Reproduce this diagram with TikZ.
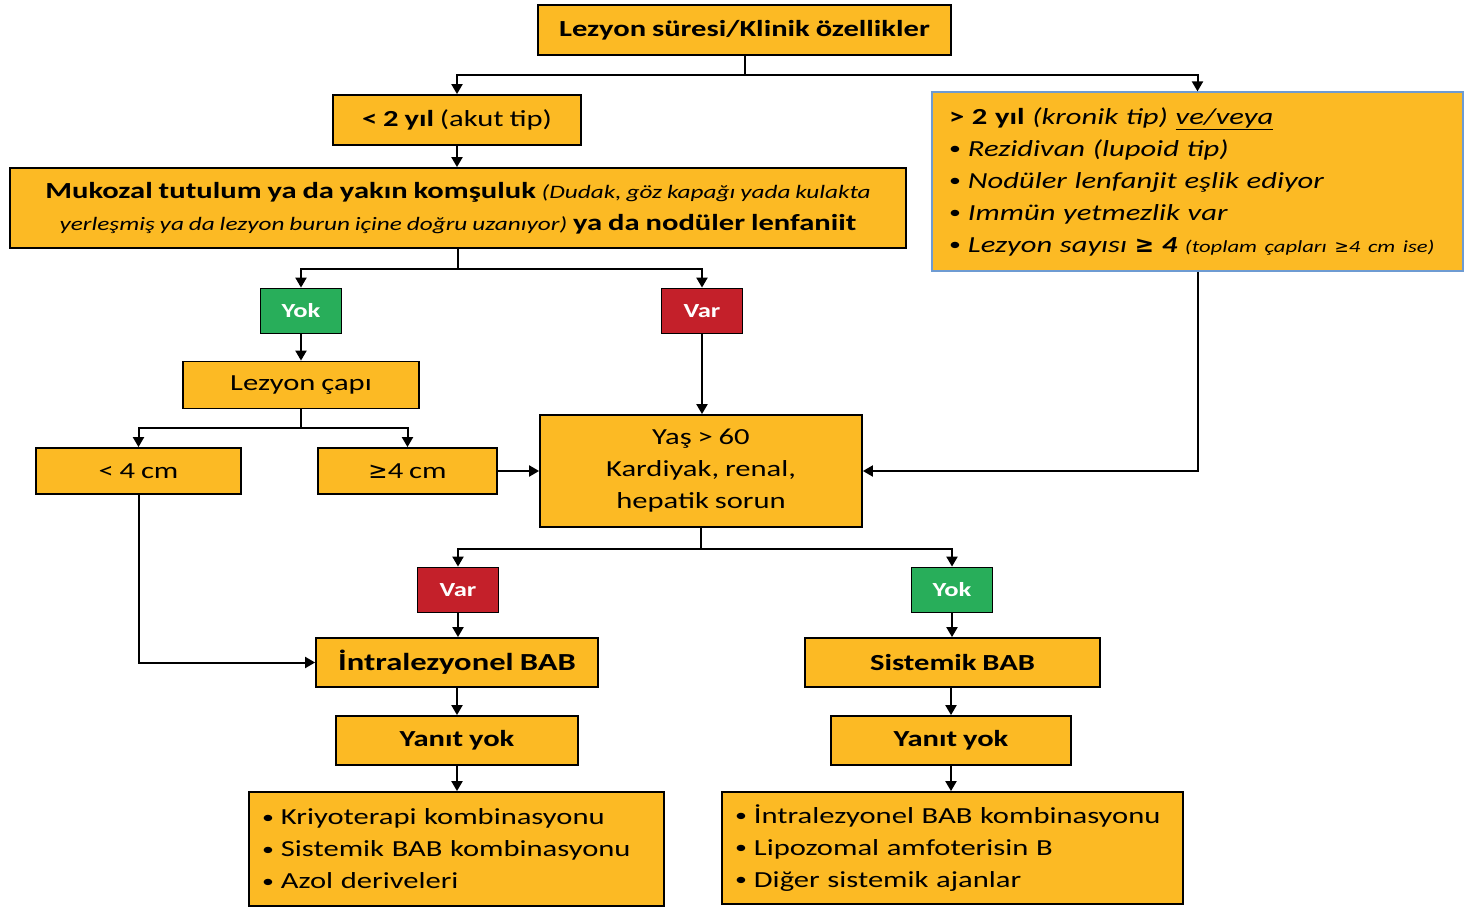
\documentclass[tikz,border=0pt]{standalone}
\usepackage{fontspec}
\setmainfont{Carlito}[FakeStretch=1.33,WordSpace=0.85]
\newfontfamily\symfont{DejaVu Sans}
\usetikzlibrary{arrows.meta}
\definecolor{boxamber}{RGB}{252,186,36}
\definecolor{yokgreen}{RGB}{40,174,90}
\definecolor{varred}{RGB}{196,32,42}
\definecolor{kronikblue}{RGB}{110,155,210}
\newcommand{\buyukesit}{{\symfont ≥}}
\newcommand{\madde}{\raisebox{1.5pt}{\fontsize{18}{18}\selectfont•}\hspace{7pt}}

\begin{document}
\begin{tikzpicture}[x=1pt,y=-1pt,
  box/.style={draw=black,line width=1.8pt,fill=boxamber,inner sep=0pt,align=center,font=\fontsize{23}{32}\selectfont},
  yokbox/.style={draw=black,line width=1.8pt,fill=yokgreen,text=white,font=\bfseries\fontsize{20}{22}\selectfont,minimum width=81pt,minimum height=45pt,inner sep=0pt},
  varbox/.style={yokbox,fill=varred},
  link/.style={line width=2pt,-{Triangle[length=10pt,width=11pt]}},
  joint/.style={line width=2pt}]
\useasboundingbox (0,0) rectangle (1464,907);

% Lezyon suresi ve iki kol
\node[box,minimum width=413pt,minimum height=50pt,font=\bfseries\fontsize{23}{28}\selectfont] (sure) at (744.5,30) {Lezyon süresi/Klinik özellikler};
\node[box,minimum width=248pt,minimum height=50pt] (akut) at (457,120) {\textbf{< 2 yıl} (akut tip)};
\node[box,draw=kronikblue,line width=1.2pt,text width=497pt,inner xsep=17pt,minimum height=179pt,align=left] (kronik) at (1197.5,181.5)
  {\textbf{> 2 yıl} \textit{(kronik tip) \underline{ve/veya}}\\
   \madde\textit{Rezidivan (lupoid tip)}\\
   \madde\textit{Nodüler lenfanjit eşlik ediyor}\\
   \madde\textit{Immün yetmezlik var}\\
   \mbox{\madde\textit{Lezyon sayısı \textbf{\buyukesit{} 4}} {\itshape\fontsize{17}{32}\selectfont (toplam çapları \buyukesit4 cm ise)}}};
\node[box,minimum width=896pt,minimum height=80pt] (mukozal) at (458,208)
  {\textbf{Mukozal tutulum ya da yakın komşuluk} {\itshape\fontsize{19}{32}\selectfont (Dudak, göz kapağı yada kulakta}\\
   {\itshape\fontsize{19}{32}\selectfont yerleşmiş ya da lezyon burun içine doğru uzanıyor)} \textbf{ya da nodüler lenfaniit}};

% Yok / Var
\node[yokbox] (yok1) at (301,311) {Yok};
\node[varbox] (var1) at (702,311) {Var};
\node[box,minimum width=236pt,minimum height=47pt] (cap) at (301,385) {Lezyon çapı};
\node[box,minimum width=205pt,minimum height=46pt] (kucuk) at (138.5,471) {< 4 cm};
\node[box,minimum width=179pt,minimum height=46pt] (buyuk) at (407.5,471) {\buyukesit4 cm};
\node[box,minimum width=322pt,minimum height=112pt] (yas) at (701,471) {Yaş > 60\\ Kardiyak, renal,\\ hepatik sorun};

% Tedavi kollari
\node[varbox] (var2) at (458,590) {Var};
\node[yokbox] (yok2) at (952,590) {Yok};
\node[box,minimum width=282pt,minimum height=49pt,font=\bfseries\fontsize{24.5}{28}\selectfont] (intra) at (457,662.5) {İntralezyonel BAB};
\node[box,minimum width=295pt,minimum height=49pt,font=\bfseries\fontsize{23}{28}\selectfont] (sistemik) at (952.5,662.5) {Sistemik BAB};
\node[box,minimum width=242pt,minimum height=49pt,font=\bfseries\fontsize{23}{28}\selectfont] (yanit1) at (457,740.5) {Yanıt yok};
\node[box,minimum width=240pt,minimum height=49pt,font=\bfseries\fontsize{23}{28}\selectfont] (yanit2) at (951,740.5) {Yanıt yok};
\node[box,text width=389pt,inner xsep=13pt,minimum height=114pt,align=left] (liste1) at (456.5,849)
  {\madde Kriyoterapi kombinasyonu\\ \madde Sistemik BAB kombinasyonu\\ \madde Azol deriveleri};
\node[box,text width=435pt,inner xsep=13pt,minimum height=112pt,align=left] (liste2) at (952.5,848)
  {\mbox{\madde İntralezyonel BAB kombinasyonu}\\ \madde Lipozomal amfoterisin B\\ \madde Diğer sistemik ajanlar};

% Baglantilar
\draw[joint] (sure.south) -- ++(0,19) coordinate (t1);
\draw[link] (t1) -| (akut.north);
\draw[link] (t1) -| (kronik.north);
\draw[link] (akut.south) -- (akut.south |- mukozal.north);
\draw[joint] (mukozal.south) -- ++(0,20) coordinate (m1);
\draw[link] (m1) -| (yok1.north);
\draw[link] (m1) -| (var1.north);
\draw[link] (yok1.south) -- (cap.north);
\draw[link] (var1.south) -- (var1.south |- yas.north);
\draw[joint] (cap.south) -- ++(0,19) coordinate (c1);
\draw[link] (c1) -| (kucuk.north);
\draw[link] (c1) -| (buyuk.north);
\draw[link] (buyuk.east) -- (buyuk.east -| yas.west);
\draw[link] (kronik.south) |- (yas.east);
\draw[joint] (yas.south) -- ++(0,21) coordinate (y1);
\draw[link] (y1) -| (var2.north);
\draw[link] (y1) -| (yok2.north);
\draw[link] (var2.south) -- (var2.south |- intra.north);
\draw[link] (yok2.south) -- (yok2.south |- sistemik.north);
\draw[link] (kucuk.south) |- (intra.west);
\draw[link] (intra.south) -- (yanit1.north);
\draw[link] (yanit1.south) -- (yanit1.south |- liste1.north);
\draw[link] (yanit2.north |- sistemik.south) -- (yanit2.north);
\draw[link] (yanit2.south) -- (yanit2.south |- liste2.north);
\end{tikzpicture}
\end{document}
